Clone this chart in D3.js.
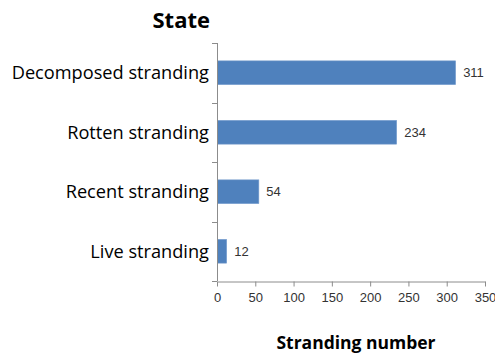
<!DOCTYPE html>
<html>
<head>
<meta charset="utf-8">
<script src="https://cdn.jsdelivr.net/npm/d3@7"></script>
<style>
  html, body { margin: 0; padding: 0; background: #fff; }
  svg { display: block; }
</style>
</head>
<body>
<svg id="chart" width="495" height="356"></svg>
<script>
// Stranding counts per carcass state
const categories = ["Decomposed stranding", "Rotten stranding", "Recent stranding", "Live stranding"];
const values = [311, 234, 54, 12];
const xTicks = [0, 50, 100, 150, 200, 250, 300, 350];

const svg = d3.select("#chart");
const plot = { left: 217, right: 485, top: 43, bottom: 281 };

const x = d3.scaleLinear().domain([0, 350]).range([plot.left, plot.right]);
const y = d3.scaleBand().domain(categories).range([plot.top, plot.bottom]).paddingInner(0.6).paddingOuter(0.3);
const yEdges = d3.scaleLinear().domain([0, categories.length]).range([plot.top, plot.bottom]);

const axisColor = "#8c8c8c";

// Bars
svg.append("g").selectAll("rect")
  .data(values)
  .join("rect")
  .attr("x", x(0) + 0.5)
  .attr("y", (d, i) => y(categories[i]))
  .attr("width", d => x(d) - x(0))
  .attr("height", y.bandwidth())
  .attr("fill", "#4f81bd")
  .attr("stroke", "#7a9fcf")
  .attr("stroke-width", 0.6);

// Value labels
svg.append("g").selectAll("text")
  .data(values)
  .join("text")
  .attr("x", d => x(d) + 8)
  .attr("y", (d, i) => y(categories[i]) + y.bandwidth() / 2)
  .attr("dy", "0.35em")
  .attr("font-family", "'Liberation Sans Narrow', 'Liberation Sans', Arial, sans-serif")
  .attr("font-size", 13)
  .attr("fill", "#333")
  .text(d => d);

// Category axis
const yAxis = svg.append("g");
yAxis.append("line")
  .attr("x1", plot.left + 0.5).attr("x2", plot.left + 0.5)
  .attr("y1", plot.top).attr("y2", plot.bottom)
  .attr("stroke", axisColor);
yAxis.selectAll("line.tick")
  .data(d3.range(categories.length + 1))
  .join("line")
  .attr("class", "tick")
  .attr("x1", plot.left - 5).attr("x2", plot.left)
  .attr("y1", d => Math.round(yEdges(d)) + 0.5)
  .attr("y2", d => Math.round(yEdges(d)) + 0.5)
  .attr("stroke", axisColor);
yAxis.selectAll("text")
  .data(categories)
  .join("text")
  .attr("x", 209)
  .attr("y", d => y(d) + y.bandwidth() / 2)
  .attr("dy", "0.35em")
  .attr("text-anchor", "end")
  .attr("font-family", "'Open Sans', Lato, sans-serif")
  .attr("font-size", 18.2)
  .attr("fill", "#000")
  .text(d => d);

// Value axis
const xAxis = svg.append("g")
  .attr("transform", `translate(0,${plot.bottom + 0.5})`)
  .call(d3.axisBottom(x).tickValues(xTicks).tickSize(5).tickSizeOuter(0).tickPadding(6));
xAxis.select(".domain").attr("stroke", axisColor);
xAxis.selectAll(".tick line").attr("stroke", axisColor);
xAxis.selectAll(".tick text")
  .attr("font-family", "'Liberation Sans Narrow', 'Liberation Sans', Arial, sans-serif")
  .attr("font-size", 13)
  .attr("fill", "#333");

// Titles
svg.append("text")
  .attr("x", 210).attr("y", 28)
  .attr("text-anchor", "end")
  .attr("font-family", "'Open Sans', Lato, sans-serif")
  .attr("font-weight", "bold")
  .attr("font-size", 22)
  .text("State");

svg.append("text")
  .attr("x", 356).attr("y", 349)
  .attr("text-anchor", "middle")
  .attr("font-family", "'Open Sans', Lato, sans-serif")
  .attr("font-weight", "bold")
  .attr("font-size", 17.5)
  .text("Stranding number");
</script>
</body>
</html>
